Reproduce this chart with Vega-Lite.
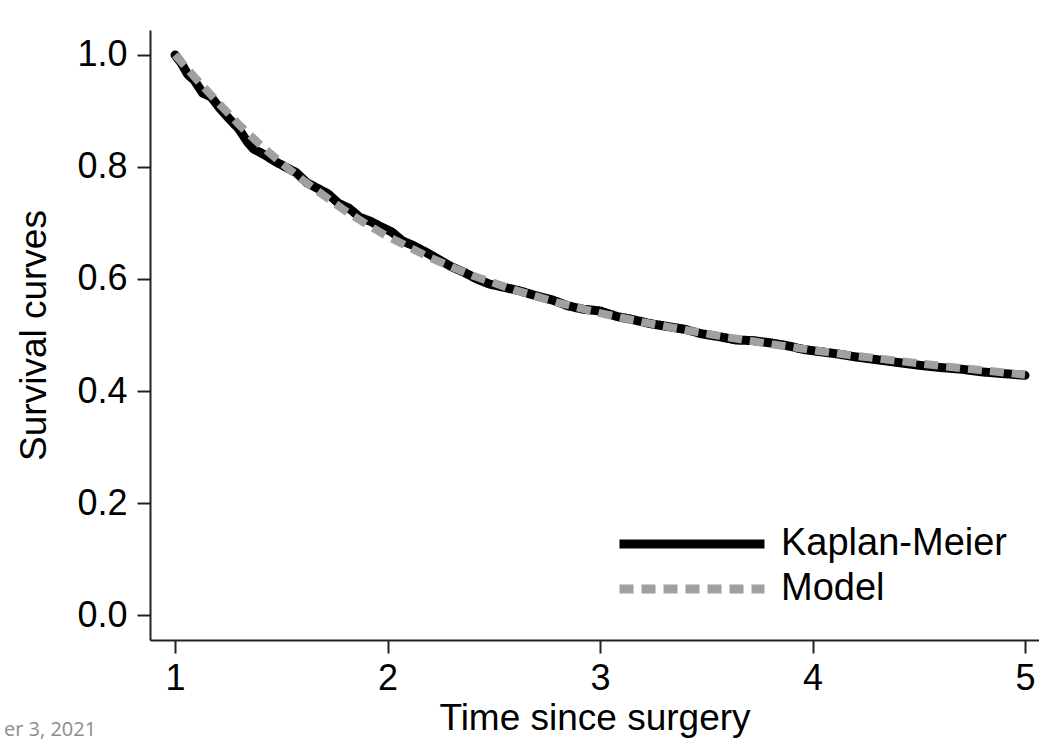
{
  "$schema": "https://vega.github.io/schema/vega-lite/v6.json",
  "width": 889,
  "height": 610,
  "autosize": {"type": "none"},
  "padding": {"left": 150, "top": 30, "right": 0, "bottom": 101},
  "background": "white",
  "title": {"text": "er 3, 2021", "orient": "bottom", "anchor": "start", "frame": "group", "fontSize": 20, "color": "#8c8c8c", "font": "Open Sans", "fontWeight": "normal", "dx": -146, "offset": -16},
  "config": {
    "font": "Liberation Sans",
    "view": {"stroke": null},
    "axis": {"grid": false, "domainColor": "#222222", "domainWidth": 2, "tickColor": "#222222", "tickWidth": 2, "tickSize": 13, "labelFontSize": 36, "labelColor": "black", "titleFontSize": 37, "titleFontWeight": "normal", "titleColor": "black", "labelFont": "Liberation Sans", "titleFont": "Liberation Sans"},
    "legend": {"title": null, "orient": "bottom-right", "offset": 32, "padding": 0, "labelFontSize": 38, "labelFont": "Liberation Sans", "labelColor": "black", "labelLimit": 500, "symbolType": "M-1,0H9", "symbolSize": 841, "symbolStrokeWidth": 9, "labelOffset": 128, "rowPadding": 7}
  },
  "data": {"values": [
    {"t": 1.00, "s": 1.000, "curve": "Kaplan-Meier"},
    {"t": 1.03, "s": 0.985, "curve": "Kaplan-Meier"},
    {"t": 1.06, "s": 0.965, "curve": "Kaplan-Meier"},
    {"t": 1.09, "s": 0.955, "curve": "Kaplan-Meier"},
    {"t": 1.13, "s": 0.932, "curve": "Kaplan-Meier"},
    {"t": 1.17, "s": 0.925, "curve": "Kaplan-Meier"},
    {"t": 1.21, "s": 0.905, "curve": "Kaplan-Meier"},
    {"t": 1.25, "s": 0.888, "curve": "Kaplan-Meier"},
    {"t": 1.30, "s": 0.868, "curve": "Kaplan-Meier"},
    {"t": 1.34, "s": 0.845, "curve": "Kaplan-Meier"},
    {"t": 1.37, "s": 0.832, "curve": "Kaplan-Meier"},
    {"t": 1.42, "s": 0.822, "curve": "Kaplan-Meier"},
    {"t": 1.47, "s": 0.810, "curve": "Kaplan-Meier"},
    {"t": 1.52, "s": 0.800, "curve": "Kaplan-Meier"},
    {"t": 1.57, "s": 0.790, "curve": "Kaplan-Meier"},
    {"t": 1.62, "s": 0.772, "curve": "Kaplan-Meier"},
    {"t": 1.67, "s": 0.762, "curve": "Kaplan-Meier"},
    {"t": 1.72, "s": 0.752, "curve": "Kaplan-Meier"},
    {"t": 1.77, "s": 0.735, "curve": "Kaplan-Meier"},
    {"t": 1.82, "s": 0.726, "curve": "Kaplan-Meier"},
    {"t": 1.87, "s": 0.710, "curve": "Kaplan-Meier"},
    {"t": 1.92, "s": 0.703, "curve": "Kaplan-Meier"},
    {"t": 1.97, "s": 0.693, "curve": "Kaplan-Meier"},
    {"t": 2.02, "s": 0.684, "curve": "Kaplan-Meier"},
    {"t": 2.07, "s": 0.668, "curve": "Kaplan-Meier"},
    {"t": 2.12, "s": 0.660, "curve": "Kaplan-Meier"},
    {"t": 2.18, "s": 0.648, "curve": "Kaplan-Meier"},
    {"t": 2.24, "s": 0.635, "curve": "Kaplan-Meier"},
    {"t": 2.30, "s": 0.622, "curve": "Kaplan-Meier"},
    {"t": 2.36, "s": 0.612, "curve": "Kaplan-Meier"},
    {"t": 2.42, "s": 0.600, "curve": "Kaplan-Meier"},
    {"t": 2.48, "s": 0.591, "curve": "Kaplan-Meier"},
    {"t": 2.55, "s": 0.585, "curve": "Kaplan-Meier"},
    {"t": 2.62, "s": 0.579, "curve": "Kaplan-Meier"},
    {"t": 2.70, "s": 0.570, "curve": "Kaplan-Meier"},
    {"t": 2.78, "s": 0.562, "curve": "Kaplan-Meier"},
    {"t": 2.85, "s": 0.552, "curve": "Kaplan-Meier"},
    {"t": 2.92, "s": 0.546, "curve": "Kaplan-Meier"},
    {"t": 3.00, "s": 0.543, "curve": "Kaplan-Meier"},
    {"t": 3.08, "s": 0.533, "curve": "Kaplan-Meier"},
    {"t": 3.16, "s": 0.527, "curve": "Kaplan-Meier"},
    {"t": 3.24, "s": 0.520, "curve": "Kaplan-Meier"},
    {"t": 3.32, "s": 0.515, "curve": "Kaplan-Meier"},
    {"t": 3.40, "s": 0.510, "curve": "Kaplan-Meier"},
    {"t": 3.48, "s": 0.502, "curve": "Kaplan-Meier"},
    {"t": 3.56, "s": 0.497, "curve": "Kaplan-Meier"},
    {"t": 3.64, "s": 0.491, "curve": "Kaplan-Meier"},
    {"t": 3.72, "s": 0.490, "curve": "Kaplan-Meier"},
    {"t": 3.80, "s": 0.486, "curve": "Kaplan-Meier"},
    {"t": 3.88, "s": 0.481, "curve": "Kaplan-Meier"},
    {"t": 3.96, "s": 0.474, "curve": "Kaplan-Meier"},
    {"t": 4.04, "s": 0.470, "curve": "Kaplan-Meier"},
    {"t": 4.12, "s": 0.466, "curve": "Kaplan-Meier"},
    {"t": 4.20, "s": 0.461, "curve": "Kaplan-Meier"},
    {"t": 4.30, "s": 0.456, "curve": "Kaplan-Meier"},
    {"t": 4.40, "s": 0.451, "curve": "Kaplan-Meier"},
    {"t": 4.50, "s": 0.446, "curve": "Kaplan-Meier"},
    {"t": 4.60, "s": 0.442, "curve": "Kaplan-Meier"},
    {"t": 4.70, "s": 0.439, "curve": "Kaplan-Meier"},
    {"t": 4.80, "s": 0.434, "curve": "Kaplan-Meier"},
    {"t": 4.90, "s": 0.431, "curve": "Kaplan-Meier"},
    {"t": 5.00, "s": 0.428, "curve": "Kaplan-Meier"},
    {"t": 1.0, "s": 1.000, "curve": "Model"},
    {"t": 1.1, "s": 0.957, "curve": "Model"},
    {"t": 1.2, "s": 0.916, "curve": "Model"},
    {"t": 1.3, "s": 0.876, "curve": "Model"},
    {"t": 1.4, "s": 0.840, "curve": "Model"},
    {"t": 1.5, "s": 0.807, "curve": "Model"},
    {"t": 1.6, "s": 0.777, "curve": "Model"},
    {"t": 1.7, "s": 0.749, "curve": "Model"},
    {"t": 1.8, "s": 0.722, "curve": "Model"},
    {"t": 1.9, "s": 0.698, "curve": "Model"},
    {"t": 2.0, "s": 0.676, "curve": "Model"},
    {"t": 2.2, "s": 0.638, "curve": "Model"},
    {"t": 2.4, "s": 0.606, "curve": "Model"},
    {"t": 2.6, "s": 0.580, "curve": "Model"},
    {"t": 2.8, "s": 0.558, "curve": "Model"},
    {"t": 3.0, "s": 0.539, "curve": "Model"},
    {"t": 3.2, "s": 0.523, "curve": "Model"},
    {"t": 3.4, "s": 0.509, "curve": "Model"},
    {"t": 3.6, "s": 0.496, "curve": "Model"},
    {"t": 3.8, "s": 0.484, "curve": "Model"},
    {"t": 4.0, "s": 0.473, "curve": "Model"},
    {"t": 4.2, "s": 0.463, "curve": "Model"},
    {"t": 4.4, "s": 0.454, "curve": "Model"},
    {"t": 4.6, "s": 0.445, "curve": "Model"},
    {"t": 4.8, "s": 0.437, "curve": "Model"},
    {"t": 5.0, "s": 0.429, "curve": "Model"}
  ]},
  "encoding": {
    "x": {"field": "t", "type": "quantitative", "scale": {"domain": [0.882, 5.066], "nice": false, "zero": false}, "axis": {"values": [1, 2, 3, 4, 5], "format": "d", "title": "Time since surgery", "labelPadding": 8, "titlePadding": 4}},
    "y": {"field": "s", "type": "quantitative", "scale": {"domain": [-0.0446, 1.0446], "nice": false, "zero": false}, "axis": {"values": [0, 0.2, 0.4, 0.6, 0.8, 1.0], "format": ".1f", "title": "Survival curves", "labelPadding": 10, "titlePadding": 23}},
    "color": {"field": "curve", "type": "nominal", "scale": {"domain": ["Kaplan-Meier", "Model"], "range": ["black", "#a0a0a0"]}},
    "strokeDash": {"field": "curve", "type": "nominal", "scale": {"domain": ["Kaplan-Meier", "Model"], "range": [[1, 0], [14, 8]]}}
  },
  "layer": [
    {"transform": [{"filter": "datum.curve === 'Kaplan-Meier'"}], "mark": {"type": "line", "strokeWidth": 9, "strokeCap": "round", "strokeJoin": "round"}},
    {"transform": [{"filter": "datum.curve === 'Model'"}], "mark": {"type": "line", "strokeWidth": 8, "strokeCap": "butt"}}
  ]
}
